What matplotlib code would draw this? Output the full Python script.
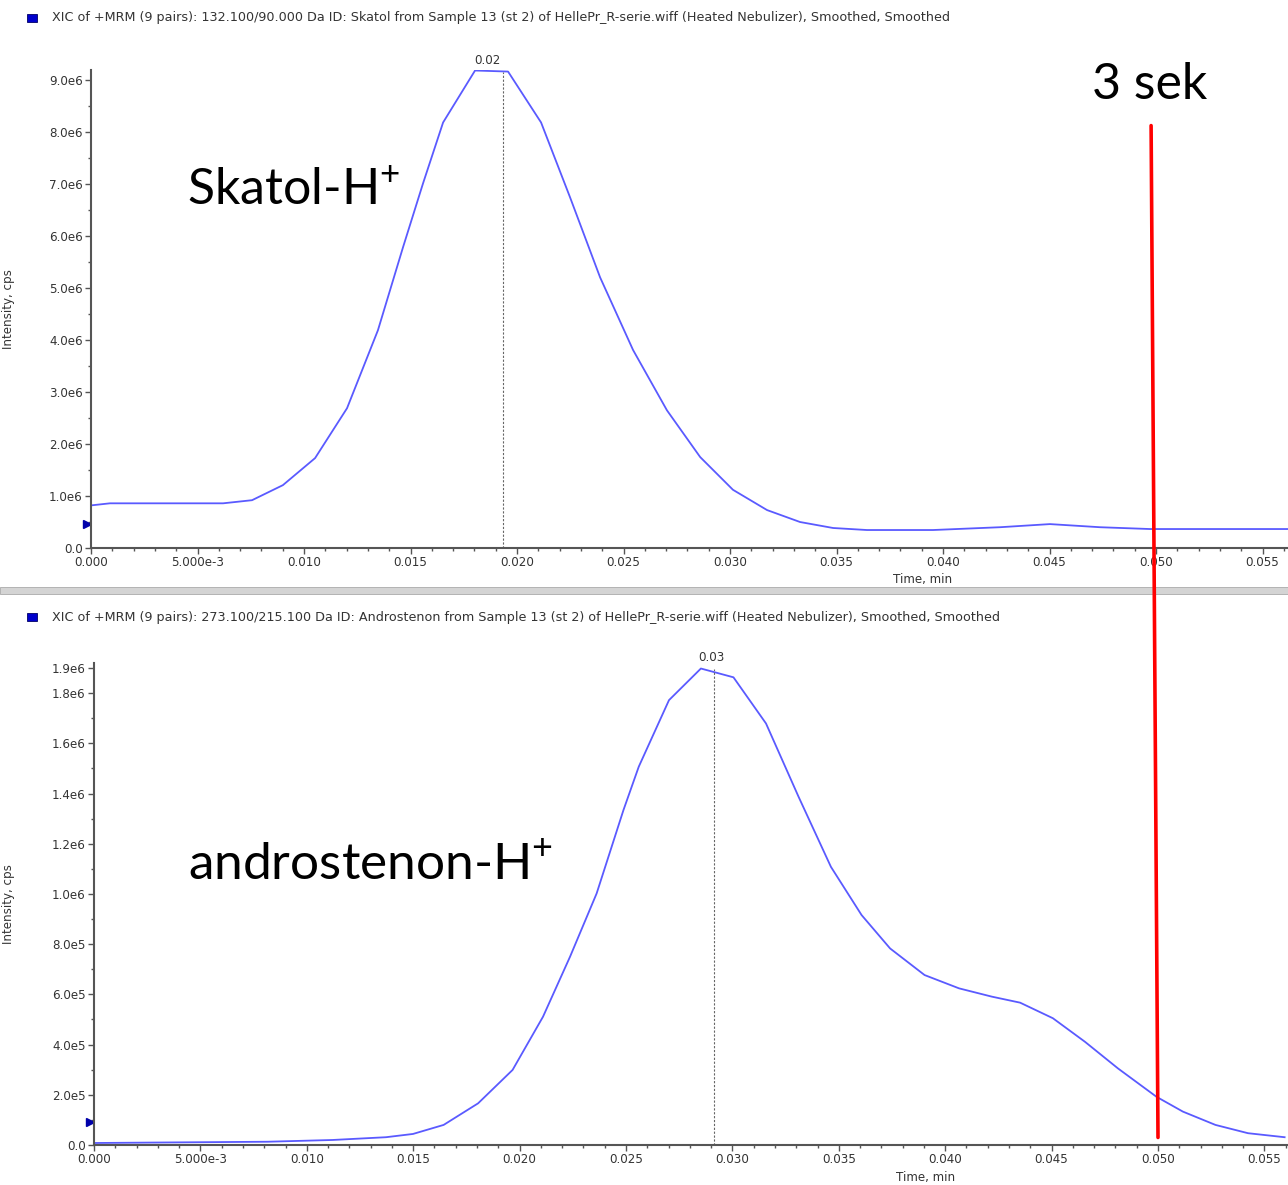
import numpy as np
import matplotlib.pyplot as plt
from matplotlib.patches import ConnectionPatch, Rectangle
from matplotlib.ticker import MultipleLocator

plt.rcParams['mathtext.fontset'] = 'custom'
plt.rcParams['mathtext.rm'] = 'Lato'

# Skatol XIC (time in min, intensity in cps)
t_skatol = [0.0, 0.00089, 0.0062, 0.00756, 0.00901, 0.01052, 0.01202, 0.01347,
            0.01465, 0.01559, 0.01653, 0.01803, 0.01958, 0.02113, 0.02249, 0.0239,
            0.02545, 0.02704, 0.0286, 0.03014, 0.03174, 0.03329, 0.03484, 0.03643,
            0.03953, 0.04268, 0.04502, 0.04737, 0.04972, 0.05207, 0.0562]
i_skatol = [0.82e6, 0.86e6, 0.86e6, 0.92e6, 1.21e6, 1.73e6, 2.69e6, 4.19e6,
            5.79e6, 7.02e6, 8.19e6, 9.19e6, 9.17e6, 8.19e6, 6.75e6, 5.21e6,
            3.81e6, 2.65e6, 1.75e6, 1.12e6, 0.73e6, 0.50e6, 0.385e6, 0.346e6,
            0.346e6, 0.40e6, 0.46e6, 0.40e6, 0.365e6, 0.365e6, 0.365e6]

# Androstenon XIC
t_andro = [0.0, 0.00815, 0.01121, 0.01372, 0.01499, 0.01643, 0.01805, 0.01967,
           0.0211, 0.02237, 0.02362, 0.02488, 0.0256, 0.02702, 0.02852, 0.03005,
           0.03158, 0.03311, 0.03463, 0.03607, 0.03741, 0.03903, 0.04065, 0.04219,
           0.04352, 0.04506, 0.04657, 0.04812, 0.04993, 0.05117, 0.0527, 0.05423,
           0.05595]
i_andro = [0.08e5, 0.13e5, 0.20e5, 0.31e5, 0.44e5, 0.80e5, 1.66e5, 2.99e5,
           5.11e5, 7.50e5, 10.02e5, 13.34e5, 15.07e5, 17.72e5, 18.98e5, 18.63e5,
           16.79e5, 13.87e5, 11.08e5, 9.16e5, 7.83e5, 6.77e5, 6.24e5, 5.91e5,
           5.67e5, 5.05e5, 4.11e5, 3.05e5, 1.92e5, 1.33e5, 0.80e5, 0.47e5,
           0.31e5]

xticks = [0.000, 0.005, 0.010, 0.015, 0.020, 0.025, 0.030, 0.035, 0.040, 0.045, 0.050, 0.055]
xticklabels = ['0.000', '5.000e-3', '0.010', '0.015', '0.020', '0.025', '0.030',
               '0.035', '0.040', '0.045', '0.050', '0.055']
yticks_top = [0, 1e6, 2e6, 3e6, 4e6, 5e6, 6e6, 7e6, 8e6, 9e6]
yticklabels_top = ['0.0', '1.0e6', '2.0e6', '3.0e6', '4.0e6', '5.0e6', '6.0e6',
                   '7.0e6', '8.0e6', '9.0e6']
yticks_bot = [0, 2e5, 4e5, 6e5, 8e5, 1.0e6, 1.2e6, 1.4e6, 1.6e6, 1.8e6, 1.9e6]
yticklabels_bot = ['0.0', '2.0e5', '4.0e5', '6.0e5', '8.0e5', '1.0e6', '1.2e6',
                   '1.4e6', '1.6e6', '1.8e6', '1.9e6']

header_top = ('XIC of +MRM (9 pairs): 132.100/90.000 Da ID: Skatol from Sample 13 (st 2) '
              'of HellePr_R-serie.wiff (Heated Nebulizer), Smoothed, Smoothed')
header_bot = ('XIC of +MRM (9 pairs): 273.100/215.100 Da ID: Androstenon from Sample 13 (st 2) '
              'of HellePr_R-serie.wiff (Heated Nebulizer), Smoothed, Smoothed')

W, H = 1288, 1185
fig = plt.figure(figsize=(W / 100, H / 100), dpi=100)


def fx(px):
    return px / W


def fy(py):
    return 1 - py / H


small = dict(family='DejaVu Sans', fontsize=8.6, color='#333333')
blue = '#5a5aff'


def style_axis(ax, yt, ytl, yminor):
    for s in ['top', 'right']:
        ax.spines[s].set_visible(False)
    for s in ['left', 'bottom']:
        ax.spines[s].set_color('#555555')
        ax.spines[s].set_linewidth(1.5)
    ax.set_xticks(xticks)
    ax.set_xticklabels(xticklabels, **small)
    ax.set_yticks(yt)
    ax.set_yticklabels(ytl, **small)
    ax.xaxis.set_minor_locator(MultipleLocator(0.001))
    ax.yaxis.set_minor_locator(MultipleLocator(yminor))
    ax.tick_params(which='major', length=4, width=1, color='#555555', pad=2)
    ax.tick_params(which='minor', length=2.5, width=1, color='#555555')
    ax.set_ylabel('Intensity, cps', **small)


# top panel
ax1 = fig.add_axes([fx(91), fy(548), fx(1288 - 91), fy(70) - fy(548)])
ax1.plot(t_skatol, i_skatol, color=blue, lw=1.3)
ax1.set_xlim(0, (1288 - 91) / 21300)
ax1.set_ylim(0, 9.2e6)
style_axis(ax1, yticks_top, yticklabels_top, 0.5e6)
ax1.yaxis.set_label_coords((fx(15) - fx(91)) / ax1.get_position().width, 0.5)
ax1.plot([0.01934, 0.01934], [0, 9.17e6], color='#666666', lw=0.8, ls=(0, (2, 1.5)))
ax1.text(0.0186, 9.25e6, '0.02', ha='center', va='bottom', **small)
ax1.plot([-0.0002], [0.46e6], marker='>', color='#0000aa', ms=6, clip_on=False)

# bottom panel
ax2 = fig.add_axes([fx(94), fy(1145), fx(1288 - 94), fy(663) - fy(1145)])
ax2.plot(t_andro, i_andro, color=blue, lw=1.3)
ax2.set_xlim(0, (1288 - 94) / 21280)
ax2.set_ylim(0, 1.92e6)
style_axis(ax2, yticks_bot, yticklabels_bot, 1e5)
ax2.yaxis.set_label_coords((fx(15) - fx(94)) / ax2.get_position().width, 0.5)
ax2.plot([0.02914, 0.02914], [0, 1.895e6], color='#666666', lw=0.8, ls=(0, (2, 1.5)))
ax2.text(0.0290, 1.915e6, '0.03', ha='center', va='bottom', **small)
ax2.plot([-0.0002], [0.09e6], marker='>', color='#0000aa', ms=6, clip_on=False)

# headers and axis titles
for py, txt in [(18, header_top), (617, header_bot)]:
    fig.text(fx(52), fy(py), txt, ha='left', va='center',
             family='DejaVu Sans', fontsize=9.2, color='#333333')
    fig.add_artist(Rectangle((fx(27), fy(py + 4)), fx(10), fy(py - 4) - fy(py + 4),
                             facecolor='#0000cc', edgecolor='#000066', lw=0.6))
fig.text(fx(923), fy(580), 'Time, min', ha='center', va='center', **small)
fig.text(fx(926), fy(1178), 'Time, min', ha='center', va='center', **small)

# separator
fig.add_artist(Rectangle((0, fy(594)), 1, fy(587) - fy(594), facecolor='#d4d4d4',
                         edgecolor='#aaaaaa', lw=0.6))

# big annotations
big = dict(family='Lato', fontsize=36, color='black')
fig.text(fx(187), fy(205), r'Skatol-H$^{+}$', ha='left', va='baseline', **big)
fig.text(fx(188), fy(880), r'androstenon-H$^{+}$', ha='left', va='baseline',
         family='Lato', fontsize=37, color='black')
fig.text(fx(1150), fy(99), '3 sek', ha='center', va='baseline', **big)

# red 3 s marker spanning both panels
con = ConnectionPatch(xyA=(0.04977, 8.13e6), coordsA=ax1.transData,
                      xyB=(0.0500, 0.03e6), coordsB=ax2.transData,
                      color='#ff0000', lw=2.6)
fig.add_artist(con)

fig.savefig('out.png', dpi=100, facecolor='white')
